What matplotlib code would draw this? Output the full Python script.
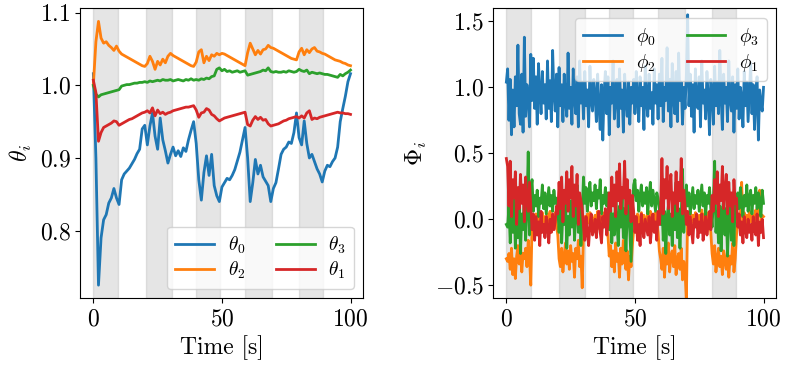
import numpy as np
import matplotlib
matplotlib.use("Agg")
import matplotlib.pyplot as plt

plt.rcParams["font.family"] = "serif"
plt.rcParams["font.serif"] = ["cmr10"]
plt.rcParams["mathtext.fontset"] = "cm"
plt.rcParams["axes.formatter.use_mathtext"] = True
plt.rcParams["font.size"] = 17

# shaded intervals [s]
bands = [(0, 9.6), (20.5, 30.4), (39.8, 49.1), (59.1, 69.3), (79.9, 89.2)]

# ---- left panel: theta_i, one sample per second (t = 0..100)
theta0 = [1.016, 0.90, 0.725, 0.79, 0.815, 0.822, 0.838, 0.845, 0.858, 0.845,
          0.836, 0.870, 0.878, 0.882, 0.886, 0.892, 0.898, 0.906, 0.912, 0.940,
          0.945, 0.918, 0.944, 0.962, 0.930, 0.912, 0.955, 0.925, 0.910, 0.893,
          0.905, 0.915, 0.903, 0.910, 0.902, 0.914, 0.909, 0.925, 0.938, 0.950,
          0.920, 0.870, 0.842, 0.880, 0.903, 0.876, 0.905, 0.862, 0.848, 0.840,
          0.860, 0.866, 0.872, 0.870, 0.876, 0.884, 0.896, 0.908, 0.925, 0.942,
          0.900, 0.840, 0.866, 0.898, 0.878, 0.890, 0.874, 0.868, 0.862, 0.840,
          0.858, 0.866, 0.885, 0.905, 0.912, 0.915, 0.922, 0.920, 0.935, 0.962,
          0.928, 0.918, 0.951, 0.920, 0.900, 0.905, 0.895, 0.885, 0.878, 0.867,
          0.882, 0.890, 0.888, 0.895, 0.900, 0.915, 0.950, 0.968, 0.985, 1.005,
          1.016]
theta2 = [1.000, 1.060, 1.088, 1.065, 1.058, 1.060, 1.055, 1.052, 1.048, 1.054,
          1.047, 1.043, 1.041, 1.039, 1.037, 1.035, 1.033, 1.031, 1.029, 1.027,
          1.026, 1.030, 1.040, 1.033, 1.022, 1.033, 1.028, 1.036, 1.031, 1.040,
          1.044, 1.041, 1.039, 1.037, 1.035, 1.033, 1.031, 1.029, 1.027, 1.026,
          1.032, 1.046, 1.049, 1.031, 1.040, 1.034, 1.042, 1.040, 1.044, 1.042,
          1.044, 1.043, 1.041, 1.039, 1.037, 1.035, 1.033, 1.031, 1.029, 1.027,
          1.045, 1.058, 1.050, 1.042, 1.048, 1.043, 1.049, 1.050, 1.055, 1.052,
          1.051, 1.049, 1.047, 1.045, 1.043, 1.041, 1.039, 1.037, 1.036, 1.035,
          1.046, 1.051, 1.042, 1.049, 1.045, 1.050, 1.052, 1.047, 1.046, 1.044,
          1.043, 1.041, 1.039, 1.037, 1.035, 1.034, 1.033, 1.031, 1.030, 1.028,
          1.027]
theta3 = [1.000, 0.988, 0.984, 0.987, 0.988, 0.989, 0.990, 0.991, 0.992, 0.993,
          0.994, 0.999, 1.000, 1.001, 1.001, 1.002, 1.003, 1.003, 1.004, 1.004,
          1.005, 1.004, 1.006, 1.005, 1.006, 1.007, 1.006, 1.008, 1.007, 1.007,
          1.008, 1.006, 1.007, 1.008, 1.007, 1.006, 1.008, 1.007, 1.009, 1.007,
          1.008, 1.007, 1.009, 1.008, 1.010, 1.009, 1.012, 1.013, 1.022, 1.024,
          1.020, 1.022, 1.019, 1.020, 1.018, 1.019, 1.020, 1.018, 1.019, 1.020,
          1.014, 1.015, 1.016, 1.017, 1.018, 1.019, 1.021, 1.020, 1.024, 1.019,
          1.018, 1.019, 1.018, 1.018, 1.019, 1.018, 1.020, 1.019, 1.018, 1.019,
          1.022, 1.020, 1.019, 1.021, 1.016, 1.018, 1.017, 1.016, 1.017, 1.016,
          1.015, 1.015, 1.014, 1.013, 1.012, 1.011, 1.015, 1.013, 1.016, 1.018,
          1.021]
theta1 = [1.007, 0.990, 0.923, 0.935, 0.942, 0.944, 0.946, 0.948, 0.951, 0.950,
          0.945, 0.947, 0.949, 0.951, 0.953, 0.954, 0.956, 0.958, 0.960, 0.962,
          0.963, 0.965, 0.962, 0.969, 0.958, 0.966, 0.961, 0.963, 0.960, 0.962,
          0.963, 0.965, 0.966, 0.967, 0.968, 0.969, 0.970, 0.970, 0.971, 0.972,
          0.966, 0.956, 0.962, 0.963, 0.968, 0.966, 0.960, 0.958, 0.954, 0.951,
          0.953, 0.955, 0.956, 0.957, 0.958, 0.959, 0.960, 0.961, 0.962, 0.963,
          0.946, 0.944, 0.952, 0.957, 0.953, 0.956, 0.952, 0.953, 0.947, 0.944,
          0.945, 0.946, 0.947, 0.949, 0.951, 0.952, 0.954, 0.955, 0.956, 0.957,
          0.955, 0.958, 0.955, 0.962, 0.965, 0.953, 0.955, 0.954, 0.956, 0.957,
          0.958, 0.959, 0.960, 0.961, 0.962, 0.963, 0.962, 0.962, 0.961, 0.961,
          0.960]

# ---- right panel: Phi_i, two samples per second (t = 0..100), one row = 5 s
phi0 = [1.04, 1.14, 0.75, 1.06, 0.64, 0.98, 0.70, 1.08, 0.86, 1.32,
        0.80, 0.72, 1.10, 0.66, 1.38, 0.78, 1.02, 0.92, 0.70, 1.25,
        0.90, 1.22, 0.84, 1.08, 0.72, 1.18, 0.96, 0.80, 1.12, 0.88,
        1.02, 0.76, 1.20, 0.84, 1.05, 0.74, 1.28, 0.95, 0.82, 1.10,
        0.70, 1.15, 0.86, 1.02, 0.74, 1.10, 0.90, 0.78, 1.26, 0.84,
        1.00, 0.72, 1.14, 0.92, 0.80, 1.08, 0.70, 1.20, 0.88, 1.04,
        0.76, 1.12, 0.86, 0.98, 0.70, 1.16, 0.90, 0.82, 1.06, 0.94,
        0.74, 1.10, 0.86, 0.68, 1.02, 0.60, 0.96, 1.12, 0.80, 1.08,
        0.64, 1.00, 0.88, 1.20, 0.76, 0.94, 1.06, 0.70, 1.14, 0.84,
        0.98, 0.66, 1.10, 0.90, 0.78, 1.04, 0.72, 1.00, 0.88, 1.06,
        0.80, 1.12, 0.92, 0.74, 1.08, 0.86, 1.00, 0.68, 1.16, 0.90,
        0.78, 1.10, 0.84, 0.96, 0.72, 1.14, 0.88, 1.02, 0.76, 1.10,
        0.86, 1.22, 0.74, 1.00, 0.90, 1.30, 0.82, 1.06, 0.70, 1.18,
        0.92, 0.80, 1.12, 0.74, 1.26, 0.90, 1.04, 0.72, 1.00, 0.84,
        1.10, 1.55, 0.86, 1.10, 0.78, 1.02, 0.66, 1.14, 0.90, 0.84,
        1.08, 0.70, 1.20, 0.88, 0.98, 0.76, 1.12, 0.92, 0.64, 1.06,
        0.98, 0.72, 1.16, 0.86, 1.04, 0.80, 1.28, 0.94, 0.68, 1.10,
        0.88, 1.00, 0.74, 1.20, 0.90, 0.82, 1.08, 0.66, 1.02, 0.84,
        1.14, 0.76, 1.00, 0.92, 0.70, 1.12, 0.86, 1.04, 0.74, 0.96,
        1.18, 0.80, 1.02, 0.68, 0.94, 1.08, 0.60, 0.98, 0.88, 0.82,
        1.00]
phi2 = [-0.30, -0.32, -0.26, -0.38, -0.22, -0.42, -0.30, -0.45, -0.28, -0.20,
        -0.34, -0.18, -0.40, -0.26, -0.30, -0.22, -0.36, -0.16, -0.28, -0.50,
        -0.05, 0.02, -0.08, 0.04, -0.02, 0.06, -0.10, 0.00, 0.05, -0.04,
        0.02, -0.06, 0.04, -0.02, 0.06, -0.08, 0.03, -0.03, 0.05, -0.05,
        -0.12, -0.30, -0.36, -0.22, -0.40, -0.28, -0.18, -0.34, -0.24, -0.38,
        -0.20, -0.32, -0.26, -0.44, -0.22, -0.30, -0.16, -0.36, -0.28, -0.52,
        -0.10, 0.02, -0.06, 0.04, -0.03, 0.05, -0.08, 0.01, -0.04, 0.03,
        -0.02, 0.06, -0.07, 0.02, -0.04, 0.05, -0.01, 0.03, -0.06, -0.12,
        -0.28, -0.20, -0.36, -0.24, -0.40, -0.18, -0.32, -0.26, -0.44, -0.22,
        -0.34, -0.16, -0.30, -0.38, -0.24, -0.46, -0.28, -0.36, -0.20, -0.08,
        0.02, -0.05, 0.04, -0.08, 0.01, 0.05, -0.03, 0.03, -0.06, 0.00,
        0.04, -0.04, 0.06, -0.02, 0.03, -0.07, 0.05, -0.01, -0.10, -0.24,
        -0.30, -0.38, -0.22, -0.44, -0.26, -0.34, -0.18, -0.40, -0.28, -0.24,
        -0.36, -0.20, -0.42, -0.30, -0.26, -0.38, -0.22, -0.46, -0.32, -0.40,
        -0.62, 0.04, -0.04, 0.06, -0.02, 0.03, -0.06, 0.05, 0.01, -0.05,
        0.03, -0.04, 0.07, -0.02, 0.04, -0.06, 0.02, 0.05, -0.03, -0.10,
        -0.26, -0.34, -0.20, -0.40, -0.30, -0.22, -0.36, -0.28, -0.42, -0.24,
        -0.32, -0.38, -0.22, -0.44, -0.28, -0.34, -0.18, -0.40, -0.30, -0.12,
        0.00, -0.06, 0.04, 0.28, -0.02, 0.05, -0.08, 0.03, -0.04, 0.06,
        -0.02, 0.04, -0.05, 0.02, 0.07, -0.03, 0.05, 0.22, -0.01, 0.03,
        0.02]
phi3 = [-0.04, -0.06, 0.10, -0.18, 0.06, -0.10, 0.18, -0.22, 0.02, -0.14,
        0.12, -0.26, 0.04, -0.08, 0.20, -0.16, 0.08, 0.51, -0.12, 0.22,
        0.30, 0.06, 0.18, 0.10, 0.22, 0.02, 0.16, 0.12, 0.26, 0.08,
        0.20, 0.04, 0.14, 0.24, 0.10, 0.18, 0.06, 0.22, 0.12, 0.16,
        0.08, -0.10, 0.12, -0.18, 0.06, -0.04, 0.18, -0.22, 0.02, -0.12,
        0.14, -0.06, 0.22, -0.16, 0.04, 0.26, -0.10, 0.10, -0.20, 0.06,
        0.32, 0.12, 0.24, 0.06, 0.18, 0.28, 0.10, 0.20, 0.14, 0.26,
        0.08, 0.22, 0.16, 0.30, 0.04, 0.18, 0.12, 0.24, 0.10, 0.20,
        -0.08, 0.16, -0.18, 0.04, -0.12, 0.22, -0.02, -0.20, 0.10, -0.06,
        0.18, -0.14, 0.08, -0.24, 0.02, 0.14, -0.10, -0.32, 0.06, 0.26,
        0.30, 0.14, 0.22, 0.06, 0.18, 0.26, 0.10, 0.20, 0.12, 0.24,
        0.04, 0.18, 0.28, 0.10, 0.22, 0.14, 0.06, 0.20, 0.16, 0.08,
        -0.04, 0.12, -0.16, 0.06, -0.26, 0.02, 0.10, -0.12, 0.04, -0.20,
        0.16, -0.08, 0.28, -0.14, 0.08, -0.22, 0.02, 0.38, -0.10, 0.06,
        0.26, 0.10, 0.20, 0.04, 0.14, 0.24, 0.08, 0.18, 0.12, 0.22,
        0.06, 0.16, 0.26, 0.10, 0.20, 0.02, 0.18, 0.12, 0.24, 0.08,
        -0.06, 0.14, 0.44, -0.10, 0.06, -0.18, 0.10, -0.24, 0.04, 0.18,
        -0.12, 0.08, -0.28, 0.02, 0.12, -0.16, 0.06, -0.20, 0.14, 0.04,
        0.20, 0.08, 0.24, 0.14, 0.02, 0.18, 0.10, 0.26, 0.06, 0.16,
        0.22, 0.04, 0.18, 0.12, 0.24, 0.08, 0.20, 0.14, 0.02, 0.22,
        0.12]
phi1 = [0.46, 0.40, 0.10, 0.44, 0.02, 0.30, 0.16, 0.36, -0.04, 0.24,
        0.08, 0.34, 0.12, 0.26, -0.02, 0.32, 0.14, 0.06, 0.28, 0.10,
        -0.08, 0.04, -0.16, 0.02, -0.12, -0.02, -0.20, 0.06, -0.10, -0.04,
        -0.14, 0.02, -0.06, -0.18, 0.00, -0.10, 0.04, -0.08, -0.02, 0.10,
        0.04, 0.28, 0.08, 0.32, -0.02, 0.22, 0.12, 0.36, 0.06, 0.30,
        0.16, 0.40, 0.02, 0.26, 0.10, 0.34, -0.04, 0.20, 0.14, 0.08,
        -0.06, -0.16, 0.02, -0.10, -0.20, -0.04, 0.04, -0.12, -0.08, 0.00,
        -0.14, -0.02, 0.06, -0.10, -0.18, 0.02, -0.06, 0.08, -0.12, -0.04,
        0.20, 0.06, 0.32, 0.10, 0.26, 0.02, 0.36, 0.14, 0.42, 0.08,
        0.24, 0.16, 0.44, 0.04, 0.30, 0.12, 0.22, -0.02, 0.18, 0.06,
        -0.10, 0.02, -0.16, -0.04, -0.20, 0.04, -0.08, -0.14, 0.00, -0.06,
        -0.12, 0.02, -0.18, -0.06, 0.04, -0.10, -0.02, -0.16, 0.06, -0.04,
        0.10, 0.46, 0.04, 0.30, 0.16, 0.40, 0.08, 0.24, 0.34, 0.02,
        0.20, 0.12, 0.36, 0.06, 0.28, 0.14, 0.46, 0.04, 0.22, 0.10,
        -0.04, 0.06, -0.12, 0.02, -0.08, -0.18, 0.00, -0.06, 0.04, -0.14,
        -0.02, -0.10, 0.04, -0.16, -0.06, 0.02, -0.12, -0.04, 0.06, -0.08,
        0.18, 0.06, 0.30, 0.12, 0.36, 0.02, 0.26, 0.14, 0.40, 0.08,
        0.22, 0.34, 0.04, 0.28, 0.10, 0.20, -0.02, 0.30, 0.12, 0.16,
        -0.06, 0.04, -0.12, -0.02, -0.18, 0.02, -0.08, -0.14, 0.00, -0.10,
        -0.04, -0.16, 0.02, -0.08, -0.12, 0.04, -0.20, -0.02, -0.10, 0.00,
        -0.14]

t_theta = np.arange(len(theta0))           # 1 s steps
t_phi = np.arange(len(phi0)) * 0.5         # 0.5 s steps

fig, (ax1, ax2) = plt.subplots(1, 2, figsize=(7.89, 3.72), dpi=100)
fig.subplots_adjust(left=0.102, right=0.984, top=0.978, bottom=0.198, wspace=0.46)

for ax in (ax1, ax2):
    for a, b in bands:
        ax.axvspan(a, b, color="gray", alpha=0.2)

leg_kw = dict(ncol=2, fontsize=14, handlelength=2.0, labelspacing=0.2,
              columnspacing=1.6, handletextpad=0.7)

lw = 2
ax1.plot(t_theta, theta0, lw=lw, label=r"$\theta_0$")
ax1.plot(t_theta, theta2, lw=lw, label=r"$\theta_2$")
ax1.plot(t_theta, theta3, lw=lw, label=r"$\theta_3$")
ax1.plot(t_theta, theta1, lw=lw, label=r"$\theta_1$")
ax1.set_xlabel("Time [s]")
ax1.set_ylabel(r"$\theta_i$")
ax1.set_yticks([0.8, 0.9, 1.0, 1.1])
ax1.set_xticks([0, 50, 100])
ax1.legend(loc="lower right", **leg_kw)

ax2.plot(t_phi, phi0, lw=lw, label=r"$\phi_0$")
ax2.plot(t_phi, phi2, lw=lw, label=r"$\phi_2$")
ax2.plot(t_phi, phi3, lw=lw, label=r"$\phi_3$")
ax2.plot(t_phi, phi1, lw=lw, label=r"$\phi_1$")
ax2.set_ylim(-0.6, 1.6)
ax2.set_xlabel("Time [s]")
ax2.set_ylabel(r"$\Phi_i$")
ax2.set_xticks([0, 50, 100])
ax2.set_yticks([-0.5, 0.0, 0.5, 1.0, 1.5])
ax2.legend(loc="upper right", **leg_kw)

fig.savefig("out.png", dpi=100)
